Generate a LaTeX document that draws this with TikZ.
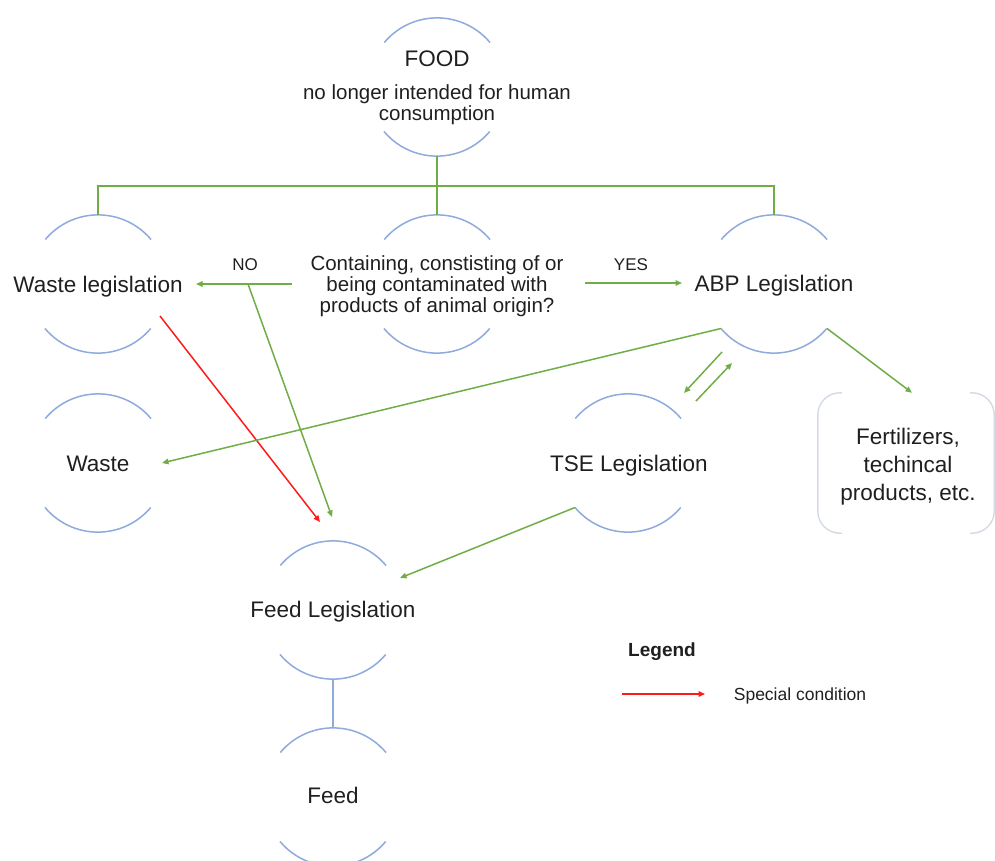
\documentclass[tikz,border=0pt]{standalone}
\usepackage{fontspec}
\setmainfont{Liberation Sans}
\usetikzlibrary{arrows.meta,calc}
\definecolor{arcblue}{HTML}{8FAADC}
\definecolor{lgreen}{HTML}{70AD47}
\definecolor{txt}{HTML}{1F1F1F}
\definecolor{brk}{HTML}{D3DAE6}
\definecolor{lred}{HTML}{FF1A1A}
\begin{document}
\begin{tikzpicture}[x=1bp,y=-1bp,
  ring/.style={circle, minimum size=138bp, inner sep=0pt, draw=none},
  arcline/.style={draw=arcblue, line width=1.5bp},
  lbl/.style={text=txt, font=\fontsize{22.5bp}{26bp}\selectfont, inner sep=0pt, anchor=base},
  sublbl/.style={text=txt, font=\fontsize{20.5bp}{21bp}\selectfont, align=center, inner sep=0pt},
  tinylbl/.style={text=txt, font=\fontsize{17bp}{20bp}\selectfont, inner sep=0pt, anchor=base},
  fertbox/.style={minimum width=176bp, minimum height=140bp, inner sep=0pt},
  ferttext/.style={text=txt, font=\fontsize{22.5bp}{28bp}\selectfont, align=center, inner sep=0pt},
  brkline/.style={draw=brk, line width=1.4bp, rounded corners=22bp},
  gline/.style={draw=lgreen, line width=1.5bp},
  garrow/.style={gline, -{Triangle[length=6.5bp,width=5.5bp]}},
  rarrow/.style={draw=lred, line width=1.5bp, -{Triangle[length=6.5bp,width=5.5bp]}}
]
\useasboundingbox (0,0) rectangle (995,861);
% ring nodes
\node[ring] (food)  at (437,87)  {};
\node[ring] (mid)   at (437,284) {};
\node[ring] (wl)    at (98,284)  {};
\node[ring] (abp)   at (774,284) {};
\node[ring] (waste) at (98,463)  {};
\node[ring] (tse)   at (628,463) {};
\node[ring] (fl)    at (333,610) {};
\node[ring] (feed)  at (333,797) {};
\foreach \n in {food,mid,wl,abp,waste,tse,fl,feed}{
  \draw[arcline] (\n.40) arc[start angle=40, end angle=140, radius=69bp];
  \draw[arcline] (\n.220) arc[start angle=220, end angle=320, radius=69bp];
}
% texts
\node[lbl] (foodt) at (437,66) {FOOD};
\node[sublbl] (foods) at (437,105) {no longer intended for human\\consumption};
\node[sublbl] (midt) at (437,286.5) {Containing, constisting of or\\being contaminated with\\products of animal origin?};
\node[lbl] (wlt) at (98,292) {Waste legislation};
\node[lbl] (abpt) at (774,291) {ABP Legislation};
\node[lbl] (wastet) at (98,471) {Waste};
\node[lbl] (tset) at (629,471) {TSE Legislation};
\node[lbl] (flt) at (333,617) {Feed Legislation};
\node[lbl] (feedt) at (333,803) {Feed};
\node[fertbox] (fert) at (906,463) {};
\node[ferttext] (fertt) at (908,467) {Fertilizers,\\techincal\\products, etc.};
\draw[brkline] ([xshift=24bp]fert.north west) -- (fert.north west) -- (fert.south west) -- ([xshift=24bp]fert.south west);
\draw[brkline] ([xshift=-24bp]fert.north east) -- (fert.north east) -- (fert.south east) -- ([xshift=-24bp]fert.south east);
% tree
\coordinate (bus) at (437,186);
\draw[gline] (food.south) -- (mid.north);
\draw[gline] (wl.north) |- (bus) -| (abp.north);
% coordinates for free ends
\coordinate (noS) at (292,284);
\coordinate (noE) at (196,284);
\coordinate (nobr) at (248,284);
\coordinate (flA) at (332,517);
\coordinate (flR) at (320,522);
\coordinate (wlR) at (160,316);
\coordinate (yesS) at (585,283);
\coordinate (yesE) at (682,283);
\coordinate (wasteE) at (162,463);
\coordinate (abpA) at (722,352);
\coordinate (tseA) at (684,393);
\coordinate (tseB) at (696,401);
\coordinate (abpB) at (732,363);
\coordinate (flB) at (400,578);
% connectors
\draw[garrow] (noS) -- (noE);
\node[tinylbl] (no) at (245,270) {NO};
\draw[garrow] (nobr) -- (flA);
\draw[rarrow] (wlR) -- (flR);
\draw[garrow] (yesS) -- (yesE);
\node[tinylbl] (yes) at (631,270) {YES};
\draw[garrow] (abp.220) -- (wasteE);
\draw[garrow] (abp.320) -- ([xshift=6bp]fert.north);
\draw[garrow] (abpA) -- (tseA);
\draw[garrow] (tseB) -- (abpB);
\draw[garrow] (tse.220) -- (flB);
\draw[draw=arcblue, line width=1.5bp] (fl.south) -- (feed.north);
% legend
\node[text=txt, font=\fontsize{19bp}{22bp}\selectfont\bfseries, inner sep=0pt, anchor=base] (leg) at (662,656) {Legend};
\coordinate (legS) at (622,694);
\coordinate (legE) at (705,694);
\draw[rarrow] (legS) -- (legE);
\node[text=txt, font=\fontsize{17.5bp}{20bp}\selectfont, inner sep=0pt, anchor=base] (spc) at (800,700) {Special condition};
\end{tikzpicture}
\end{document}
